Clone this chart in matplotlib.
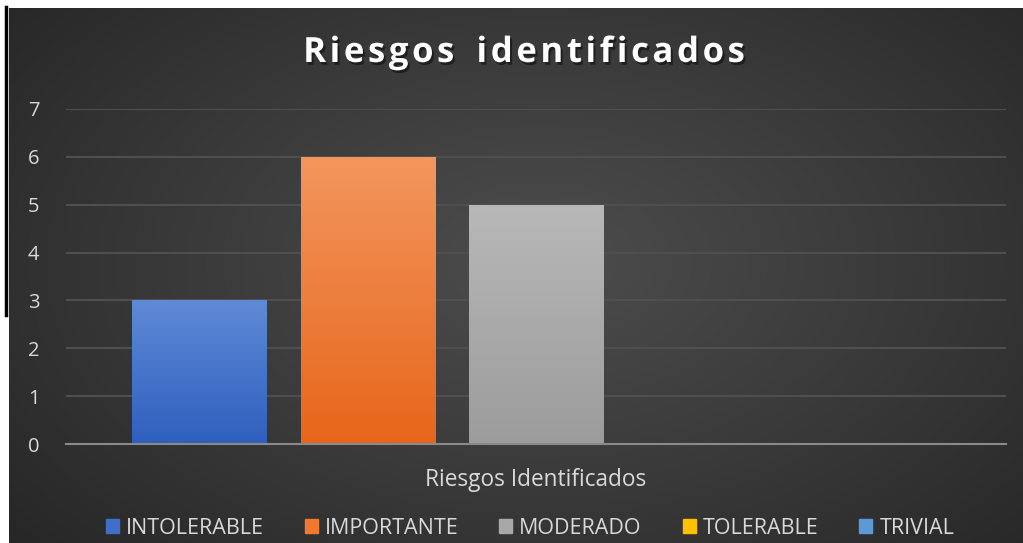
import numpy as np
import matplotlib
matplotlib.use("Agg")
import matplotlib.pyplot as plt
import matplotlib.patheffects as pe
from matplotlib.patches import Rectangle
from matplotlib.lines import Line2D
from matplotlib.colors import LinearSegmentedColormap

# ---- data ----
category = "Riesgos Identificados"
series = ["INTOLERABLE", "IMPORTANTE", "MODERADO", "TOLERABLE", "TRIVIAL"]
values = [3, 6, 5, 0, 0]
yticks = [0, 1, 2, 3, 4, 5, 6, 7]
title = "Riesgos  identificados"

top_colors = ["#5f8ad6", "#f3965e", "#b8b8b8", "#ffd34d", "#6aa6dc"]
bot_colors = ["#2f5fbe", "#e7661a", "#9c9c9c", "#ffc000", "#5b9bd5"]
legend_colors = ["#3f6fc8", "#ef7a2e", "#a8a8a8", "#ffc000", "#5b9bd5"]

W, H = 1023, 543
fig = plt.figure(figsize=(W / 100, H / 100), dpi=100)
fig.patch.set_facecolor("white")

# background panel with radial gradient
bg = fig.add_axes([9 / W, 0, (W - 9) / W, (H - 8) / H])
bg.set_axis_off()
yy, xx = np.mgrid[0:400, 0:800]
cx, cy = 420, 190
r = np.sqrt(((xx - cx) / 560) ** 2 + ((yy - cy) / 330) ** 2)
r = np.clip(r, 0, 1)
cmap_bg = LinearSegmentedColormap.from_list("bg", ["#4d4d4d", "#3a3a3a", "#262626"])
bg.imshow(r, cmap=cmap_bg, aspect="auto", extent=[0, 1, 0, 1], vmin=0, vmax=1)
bg.set_xlim(0, 1)
bg.set_ylim(0, 1)

# left black line
fig.add_artist(Line2D([6 / W, 6 / W], [1 - 7 / H, 1 - 315 / H], color="black", lw=2.5,
                      transform=fig.transFigure))

fam = ["Open Sans", "DejaVu Sans"]

ax = fig.add_axes([66 / W, 99 / H, 940 / W, 335 / H])
ax.patch.set_alpha(0)
ax.set_xlim(-0.5, 0.5)
ax.set_ylim(0, 7)

bw = 135 / 940
step = 168 / 940
n = len(series)
xs = [(i - (n - 1) / 2) * step for i in range(n)]
bars = ax.bar(xs, values, width=bw, color=bot_colors, zorder=3, linewidth=0)

grad = np.linspace(0, 1, 256).reshape(-1, 1)
for b, tc, bc in zip(bars, top_colors, bot_colors):
    h = b.get_height()
    if h <= 0:
        continue
    x0 = b.get_x()
    cm = LinearSegmentedColormap.from_list("g", [tc, bc])
    im = ax.imshow(grad, cmap=cm, aspect="auto",
                   extent=[x0, x0 + b.get_width(), 0, h], zorder=3.5)
    im.set_clip_path(b)
ax.set_xlim(-0.5, 0.5)
ax.set_ylim(0, 7)

ax.set_yticks(yticks)
ax.set_yticklabels([str(t) for t in yticks], family=fam, fontsize=14.5, color="#d9d9d9")
ax.yaxis.grid(True, color="#4f4f4f", lw=1.5, zorder=0)
ax.tick_params(axis="y", length=0, pad=19)
ax.set_xticks([0])
ax.set_xticklabels([category], family=fam, fontsize=16.3, color="#d9d9d9")
ax.tick_params(axis="x", length=0, pad=17)
for s in ["top", "right", "left"]:
    ax.spines[s].set_visible(False)
ax.spines["bottom"].set_color("#8a8a8a")
ax.spines["bottom"].set_linewidth(1.5)
ax.spines["bottom"].set_zorder(4)

# title with letter spacing
renderer = fig.canvas.get_renderer()
tprops = dict(fontsize=25, fontweight="bold", color="white", family=fam, va="center",
              ha="left",
              path_effects=[pe.withSimplePatchShadow(offset=(1.5, -2), shadow_rgbFace="black",
                                                    alpha=0.45)])
spacing = 3.6  # px
widths = []
for ch in title:
    t = fig.text(0, 0, ch if ch != " " else "n", **tprops)
    bb = t.get_window_extent(renderer)
    widths.append(bb.width * (0.25 if ch == " " else 1))
    t.remove()
total = sum(widths) + spacing * (len(title) - 1)
x = 524 - total / 2
ty = 1 - 53 / H
for ch, wch in zip(title, widths):
    if ch != " ":
        fig.text(x / W, ty, ch, **tprops)
    x += wch + spacing

handles = [Rectangle((0, 0), 1, 1, color=c) for c in legend_colors]
leg = fig.legend(handles, series, loc="center", bbox_to_anchor=(530 / W, 1 - 528 / H),
                 ncol=5, frameon=False, prop={"family": fam, "size": 15.5},
                 handlelength=0.6, handleheight=0.6, handletextpad=0.33,
                 columnspacing=1.9, labelcolor="#d9d9d9")

fig.savefig("out.png", dpi=100, facecolor="white")
